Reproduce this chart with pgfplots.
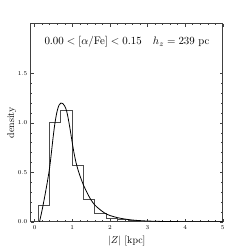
\documentclass[border=0pt]{standalone}
\usepackage{pgfplots}
\pgfplotsset{compat=1.18}
\begin{document}
\begin{tikzpicture}
\begin{axis}[
  at={(0,0)}, anchor=south west,
  scale only axis, width=193pt, height=199pt,
  xmin=-0.1, xmax=5, ymin=0, ymax=2,
  xtick={0,1,2,3,4,5}, ytick={0,0.5,1,1.5},
  minor x tick num=4, minor y tick num=4,
  tick align=inside, tickpos=both,
  major tick length=3pt, minor tick length=1.6pt,
  every tick/.style={black!75, line width=0.4pt},
  axis line style={black!75, line width=0.8pt},
  tick label style={font=\fontsize{5.6}{6}\selectfont},
  yticklabel style={/pgf/number format/fixed, /pgf/number format/fixed zerofill, /pgf/number format/precision=1},
  xticklabel style={yshift=-0.5pt},
  xlabel={$|Z|$ [kpc]}, ylabel={density},
  label style={font=\fontsize{10.8}{12}\selectfont},
  every axis x label/.style={at={(axis description cs:0.5,0)}, anchor=center, yshift=-19pt},
  every axis y label/.style={at={(axis description cs:0,0.5)}, rotate=90, anchor=center, yshift=19.3pt},
]
\addplot[const plot mark left, black!70, line width=0.9pt] coordinates {
(0.1,0) (0.1,0.17) (0.4,1.00) (0.7,1.13) (1.0,0.57) (1.3,0.23) (1.6,0.085)
(1.9,0.037) (2.2,0.02) (2.5,0.012) (2.8,0.007) (3.1,0.004) (3.4,0.002)
(3.7,0.001) (4.0,0.0005) (4.3,0) (5.0,0)};
\addplot[black, line width=0.8pt, smooth, tension=0.5] coordinates {
(0.13,0) (0.2,0.12) (0.3,0.32) (0.4,0.55) (0.5,0.88) (0.55,1.02) (0.6,1.12)
(0.65,1.18) (0.7,1.20) (0.75,1.195) (0.8,1.17) (0.85,1.12) (0.9,1.03)
(0.95,0.92) (1.0,0.80) (1.05,0.69) (1.1,0.60) (1.15,0.53) (1.2,0.47)
(1.3,0.37) (1.4,0.29) (1.5,0.22) (1.6,0.17) (1.7,0.135) (1.8,0.105)
(1.9,0.08) (2.0,0.064) (2.2,0.042) (2.4,0.028) (2.6,0.018) (2.8,0.012)
(3.0,0.008) (3.25,0.005) (3.5,0.003) (4.0,0.001) (4.5,0.0003) (5.0,0.0001)};
\node[anchor=west, font=\fontsize{10.8}{12}\selectfont] at (axis cs:0.17,1.82) {$0.00 < [\alpha/\mathrm{Fe}] < 0.15$};
\node[anchor=east, font=\fontsize{10.8}{12}\selectfont] at (axis cs:4.74,1.82) {$h_z = 239$ pc};
\end{axis}
\path[use as bounding box] (-31pt,-26pt) rectangle (218pt,223pt);
\end{tikzpicture}
\end{document}
